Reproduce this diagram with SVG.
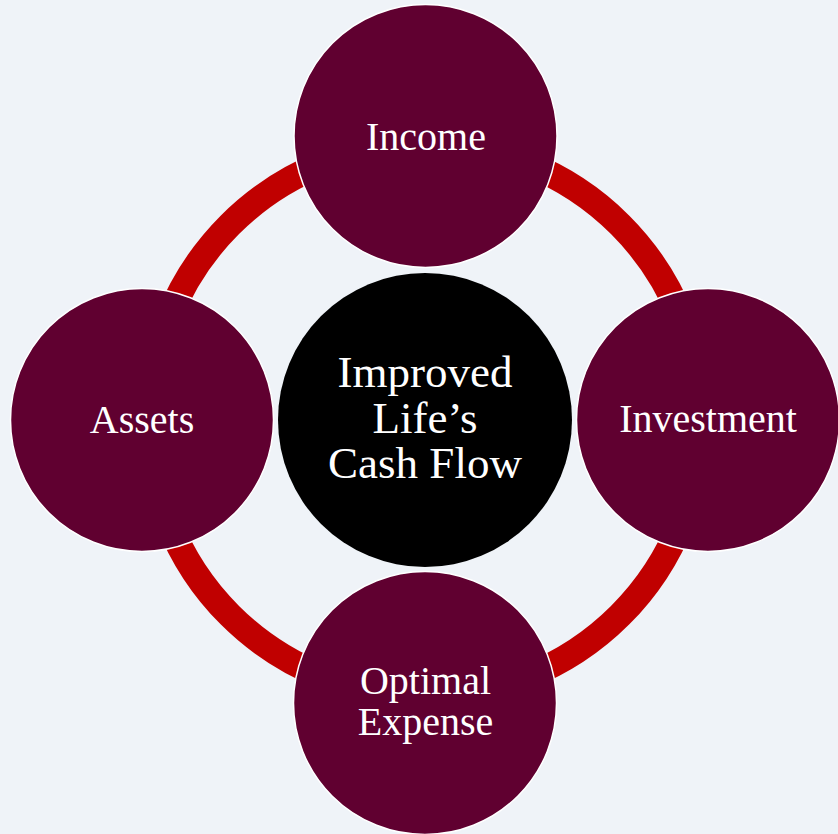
<svg xmlns="http://www.w3.org/2000/svg" width="838" height="834" viewBox="0 0 838 834">
<style>
.node{fill:#600030;stroke:#ffffff;stroke-width:1.5}
.lbl{font-family:"Liberation Serif","Times New Roman",serif;font-size:40px;fill:#ffffff;text-anchor:middle}
.clbl{font-family:"Liberation Serif","Times New Roman",serif;font-size:45px;fill:#ffffff;text-anchor:middle}
</style>
<rect x="0" y="0" width="838" height="834" fill="#eff3f8"/>
<g id="connectors">
<circle cx="425" cy="420" r="276" fill="none" stroke="#c00000" stroke-width="26"/>
</g>
<g id="center">
<circle cx="425" cy="420" r="147" fill="#000000"/>
<text class="clbl" x="425" y="387">Improved</text>
<text class="clbl" x="425" y="433">Life’s</text>
<text class="clbl" x="425" y="478">Cash Flow</text>
</g>
<g id="income">
<circle class="node" cx="425.5" cy="136" r="131.5"/>
<text class="lbl" x="426" y="150">Income</text>
</g>
<g id="assets">
<circle class="node" cx="142" cy="420" r="131.5"/>
<text class="lbl" x="142" y="433">Assets</text>
</g>
<g id="investment">
<circle class="node" cx="708" cy="420" r="131.5"/>
<text class="lbl" x="708" y="432">Investment</text>
</g>
<g id="expense">
<circle class="node" cx="425" cy="703" r="131.5"/>
<text class="lbl" x="425.5" y="694">Optimal</text>
<text class="lbl" x="425.5" y="735">Expense</text>
</g>
</svg>
